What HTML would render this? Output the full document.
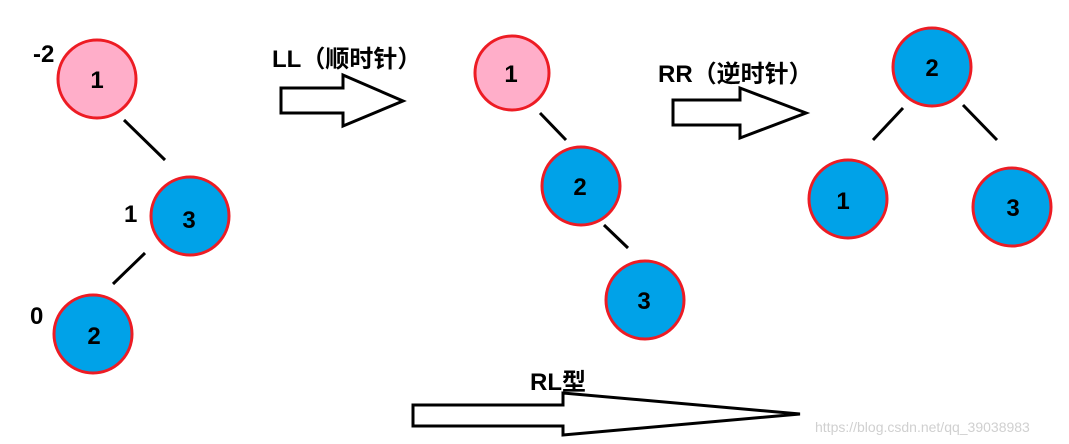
<!DOCTYPE html>
<html><head><meta charset="utf-8"><style>
html,body{margin:0;padding:0;background:#fff;}
svg{display:block}
text{font-family:"Liberation Sans","Noto Sans CJK SC",sans-serif;font-weight:bold;fill:#000;}
</style></head><body>
<svg width="1069" height="444" viewBox="0 0 1069 444" xmlns="http://www.w3.org/2000/svg">
<g stroke="#ed1c24" stroke-width="3">
<circle cx="97" cy="79" r="39" fill="#ffaec9"/>
<circle cx="190" cy="216" r="39" fill="#00a2e8"/>
<circle cx="93" cy="334" r="39" fill="#00a2e8"/>
<circle cx="512" cy="73" r="37" fill="#ffaec9"/>
<circle cx="581" cy="186" r="39" fill="#00a2e8"/>
<circle cx="645" cy="300" r="39" fill="#00a2e8"/>
<circle cx="932" cy="67" r="39" fill="#00a2e8"/>
<circle cx="848" cy="199" r="39" fill="#00a2e8"/>
<circle cx="1012" cy="207" r="39" fill="#00a2e8"/>
</g>
<g stroke="#000" stroke-width="3">
<line x1="124" y1="120" x2="165" y2="160"/>
<line x1="145" y1="253" x2="113" y2="284"/>
<line x1="540" y1="113" x2="566" y2="140"/>
<line x1="604" y1="225" x2="628" y2="248"/>
<line x1="903" y1="108" x2="873" y2="140"/>
<line x1="963" y1="105" x2="997" y2="140"/>
</g>
<g fill="#fff" stroke="#000" stroke-width="3" stroke-linejoin="miter">
<polygon points="281,88 343,88 343,75 403,101 343,126 343,113 281,113"/>
<polygon points="673,100 740,100 740,88 806,113 740,138 740,125 673,125"/>
<polygon points="413,405 563,405 563,393 800,414 563,435 563,426 413,426"/>
</g>
<g font-size="24" text-anchor="middle">
<text x="97" y="88">1</text>
<text x="189" y="228">3</text>
<text x="94" y="344">2</text>
<text x="511" y="82">1</text>
<text x="580" y="195">2</text>
<text x="644" y="309">3</text>
<text x="932" y="76">2</text>
<text x="843" y="209">1</text>
<text x="1013" y="216">3</text>
</g>
<g font-size="24">
<text x="33" y="62">-2</text>
<text x="124" y="222">1</text>
<text x="30" y="324">0</text>
<text x="272" y="67">LL（顺时针）</text>
<text x="658" y="82">RR（逆时针）</text>
<text x="530" y="390">RL型</text>
</g>
<text x="815" y="432" font-size="14" style="font-weight:normal;fill:#d0d0d0">https://blog.csdn.net/qq_39038983</text>
</svg>
</body></html>
